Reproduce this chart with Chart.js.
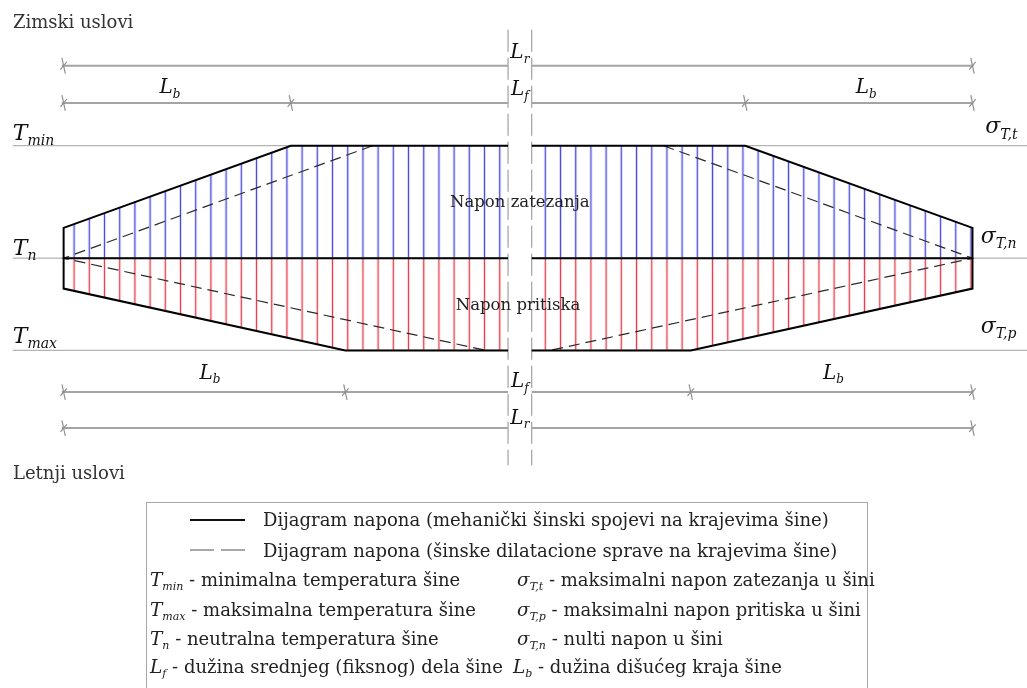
<!DOCTYPE html>
<html>
<head>
<meta charset="utf-8">
<script src="https://cdn.jsdelivr.net/npm/chart.js@4.4.1/dist/chart.umd.min.js"></script>
<style>
  html, body { margin: 0; padding: 0; background: #fff; }
  #diagram { display: block; }
</style>
</head>
<body>
<canvas id="diagram" width="1027" height="688"></canvas>
<script>
/* rail position: 0 = left rail end, 100 = right rail end
   stress: 0 = neutral (Tn), + tension (Tmin side), - compression (Tmax side) */
const breakEdges = [48.9, 51.5];

const tensionLeft      = [[0, 27], [25, 100], [48.9, 100]];
const tensionRight     = [[51.5, 100], [75, 100], [100, 27]];
const compressionLeft  = [[0, -27], [31, -82], [48.9, -82]];
const compressionRight = [[51.5, -82], [69, -82], [100, -27]];

// dilatation device variant (dashed)
const dilatLeft  = [[34, 100], [0, 0], [46.5, -82]];
const dilatRight = [[66, 100], [100, 0], [53.5, -82]];

// reference levels Tmin / Tn / Tmax
const refLevels = [100, 0, -82];

// dimension lines: Lr and Lf above, Lf and Lr below
const dimLevels = [171, 138, -119, -151];
const dimTicks = [[0, 100], [0, 25, 75, 100], [0, 31, 69, 100], [0, 100]];

// hatching
const hatchStart = 1.15;
const hatchStep = 1.6725;

const leftLabels  = [['T', 'min'], ['T', 'n'], ['T', 'max']];
const rightLabels = [['σ', 'T,t'], ['σ', 'T,n'], ['σ', 'T,p']];

const legendLines = [
  'Dijagram napona (mehanički šinski spojevi na krajevima šine)',
  'Dijagram napona (šinske dilatacione sprave na krajevima šine)'
];
const legendLeft = [
  ['T', 'min', ' - minimalna temperatura šine'],
  ['T', 'max', ' - maksimalna temperatura šine'],
  ['T', 'n', ' - neutralna temperatura šine'],
  ['L', 'f', ' - dužina srednjeg (fiksnog) dela šine']
];
const legendRight = [
  ['σ', 'T,t', ' - maksimalni napon zatezanja u šini'],
  ['σ', 'T,p', ' - maksimalni napon pritiska u šini'],
  ['σ', 'T,n', ' - nulti napon u šini'],
  ['L', 'b', ' - dužina dišućeg kraja šine']
];

const SERIF = '"DejaVu Serif", "Liberation Serif", serif';
const BLUE = 'rgba(45,45,215,0.85)';
const RED = 'rgba(228,30,48,0.85)';
const GAP = { x: 50, y: null };

function pts(pairs) {
  return pairs.map(([x, y]) => ({ x, y }));
}

function brokenLine(level, from, to) {
  return [{ x: from, y: level }, { x: breakEdges[0], y: level }, GAP,
          { x: breakEdges[1], y: level }, { x: to, y: level }];
}

function hatch(chart, color) {
  const xs = chart.scales.x;
  const p0 = xs.getPixelForValue(hatchStart);
  const step = xs.getPixelForValue(hatchStart + hatchStep) - p0;
  const tw = Math.max(2, Math.round(step));
  const tile = document.createElement('canvas');
  tile.width = tw; tile.height = 8;
  const g = tile.getContext('2d');
  g.fillStyle = color;
  g.fillRect(tw / 2 - 0.7, 0, 1.4, 8);
  const pat = chart.ctx.createPattern(tile, 'repeat');
  const k = step / tw;
  pat.setTransform(new DOMMatrix([k, 0, 0, 1, p0 - (tw / 2) * k, 0]));
  return pat;
}

function fillSet(pairs, color) {
  return {
    data: pts(pairs),
    showLine: true,
    borderWidth: 0,
    borderColor: 'transparent',
    pointRadius: 0,
    fill: { value: 0 },
    backgroundColor: 'transparent',
    hatchColor: color,
    order: 10
  };
}

function lineSet(data, color, width, dash, order) {
  return {
    data,
    showLine: true,
    borderColor: color,
    borderWidth: width,
    borderDash: dash || [],
    pointRadius: 0,
    fill: false,
    order
  };
}

const outlineLeft = pts([...tensionLeft].reverse().concat(compressionLeft));
const outlineRight = pts([...tensionRight].concat([...compressionRight].reverse()));

const grayRef = [];
refLevels.forEach((lv, i) => {
  if (i) grayRef.push(GAP);
  grayRef.push(...brokenLine(lv, -5.6, 106));
});

const dimData = [];
const tickData = [];
dimLevels.forEach((lv, i) => {
  if (i) dimData.push(GAP);
  dimData.push(...brokenLine(lv, -0.2, 100.1));
  dimTicks[i].forEach(t => tickData.push({ x: t, y: lv }));
});

const breakData = [
  { x: breakEdges[0], y: 203 }, { x: breakEdges[0], y: -184 }, GAP,
  { x: breakEdges[1], y: 203 }, { x: breakEdges[1], y: -184 }
];

const baseData = [{ x: 0, y: 0 }, { x: breakEdges[0], y: 0 }, GAP,
                  { x: breakEdges[1], y: 0 }, { x: 100, y: 0 }];

function subText(ctx, px, py, main, sub, size, align) {
  ctx.font = `italic ${size}px ${SERIF}`;
  const w1 = ctx.measureText(main).width;
  const ss = Math.round(size * 0.62);
  ctx.font = `italic ${ss}px ${SERIF}`;
  const w2 = ctx.measureText(sub).width;
  const x0 = align === 'center' ? px - (w1 + w2) / 2 : px;
  ctx.textAlign = 'left';
  ctx.textBaseline = 'alphabetic';
  ctx.font = `italic ${size}px ${SERIF}`;
  ctx.fillText(main, x0, py);
  ctx.font = `italic ${ss}px ${SERIF}`;
  ctx.fillText(sub, x0 + w1, py + size * 0.24);
  return x0 + w1 + w2;
}

const annotations = {
  id: 'annotations',
  afterDatasetsDraw(chart) {
    const { ctx } = chart;
    const X = v => chart.scales.x.getPixelForValue(v);
    const Y = v => chart.scales.y.getPixelForValue(v);
    ctx.save();
    ctx.fillStyle = '#111';

    // level labels
    const leftY = [105, 3, -75];
    leftLabels.forEach(([m, s], i) => subText(ctx, X(-5.6), Y(leftY[i]), m, s, 22));
    const rightY = [111, 13.5, -66.5];
    const rightX = [101.4, 100.9, 100.9];
    rightLabels.forEach(([m, s], i) => subText(ctx, X(rightX[i]), Y(rightY[i]), m, s, 22));

    // dimension labels
    subText(ctx, X(11.7), Y(147), 'L', 'b', 20, 'center');
    subText(ctx, X(88.3), Y(147), 'L', 'b', 20, 'center');
    subText(ctx, X(16.1), Y(-107), 'L', 'b', 20, 'center');
    subText(ctx, X(84.7), Y(-107), 'L', 'b', 20, 'center');
    subText(ctx, X(50.2), Y(178), 'L', 'r', 20, 'center');
    subText(ctx, X(50.2), Y(145), 'L', 'f', 20, 'center');
    subText(ctx, X(50.2), Y(-114.5), 'L', 'f', 20, 'center');
    subText(ctx, X(50.2), Y(-147), 'L', 'r', 20, 'center');

    // region captions
    ctx.font = `16.5px ${SERIF}`;
    ctx.textAlign = 'center';
    ctx.fillStyle = '#222';
    ctx.fillText('Napon zatezanja', X(50.2), Y(45.3));
    ctx.fillText('Napon pritiska', X(50), Y(-46));

    ctx.textAlign = 'left';
    ctx.fillStyle = '#333';
    ctx.font = `18px ${SERIF}`;
    ctx.fillText('Zimski uslovi', 13, 28);
    ctx.fillText('Letnji uslovi', 13, 479);

    // legend box
    ctx.strokeStyle = '#a8a8a8';
    ctx.lineWidth = 1;
    ctx.strokeRect(146.5, 502.5, 721, 200);

    ctx.lineWidth = 2;
    ctx.strokeStyle = '#111';
    ctx.beginPath(); ctx.moveTo(190, 520); ctx.lineTo(245, 520); ctx.stroke();
    ctx.strokeStyle = '#8a8a8a';
    ctx.lineWidth = 1.5;
    ctx.setLineDash([24, 7]);
    ctx.beginPath(); ctx.moveTo(190, 550); ctx.lineTo(245, 550); ctx.stroke();
    ctx.setLineDash([]);

    ctx.fillStyle = '#222';
    ctx.font = `18px ${SERIF}`;
    ctx.fillText(legendLines[0], 263, 526);
    ctx.fillText(legendLines[1], 263, 557);

    const rowBase = [586, 616, 645, 673];
    legendLeft.forEach(([m, s, d], i) => {
      const xe = subText(ctx, 150, rowBase[i], m, s, 18.5);
      ctx.font = `18px ${SERIF}`;
      ctx.fillText(d, xe, rowBase[i]);
    });
    legendRight.forEach(([m, s, d], i) => {
      const xe = subText(ctx, i === 3 ? 513 : 517, rowBase[i], m, s, 18.5);
      ctx.font = `18px ${SERIF}`;
      ctx.fillText(d, xe, rowBase[i]);
    });
    ctx.restore();
  }
};

const chart = new Chart(document.getElementById('diagram'), {
  type: 'scatter',
  data: {
    datasets: [
      fillSet(tensionLeft, BLUE),
      fillSet(tensionRight, BLUE),
      fillSet(compressionLeft, RED),
      fillSet(compressionRight, RED),
      lineSet(grayRef, '#b4b4b4', 1.3, null, 9),
      lineSet(dimData, '#a4a4a4', 2, null, 8),
      lineSet(breakData, '#a8a8a8', 1.3, [22, 6], 7),
      lineSet(pts(dilatLeft), '#2a2a2a', 1.2, [11, 6], 5),
      lineSet(pts(dilatRight), '#2a2a2a', 1.2, [11, 6], 5),
      lineSet(baseData, '#000', 2, null, 2),
      lineSet(outlineLeft, '#000', 2, null, 1),
      lineSet(outlineRight, '#000', 2, null, 1),
      {
        data: tickData,
        showLine: false,
        pointStyle: 'line',
        pointRotation: 78,
        pointRadius: 8,
        pointBorderColor: '#909090',
        pointBorderWidth: 1.2,
        order: 0
      },
      {
        data: tickData,
        showLine: false,
        pointStyle: 'line',
        pointRotation: 130,
        pointRadius: 5,
        pointBorderColor: '#909090',
        pointBorderWidth: 1.2,
        order: 0
      }
    ]
  },
  options: {
    responsive: false,
    animation: false,
    devicePixelRatio: 1,
    layout: { padding: 0, autoPadding: false },
    plugins: { legend: { display: false }, tooltip: { enabled: false } },
    scales: {
      x: { type: 'linear', min: -7, max: 106, display: false },
      y: { type: 'linear', min: -382, max: 229.5, display: false }
    }
  },
  plugins: [annotations]
});

// hatching patterns need the laid-out x scale
chart.data.datasets.forEach(ds => {
  if (ds.hatchColor) ds.backgroundColor = hatch(chart, ds.hatchColor);
});
chart.update('none');
</script>
</body>
</html>
